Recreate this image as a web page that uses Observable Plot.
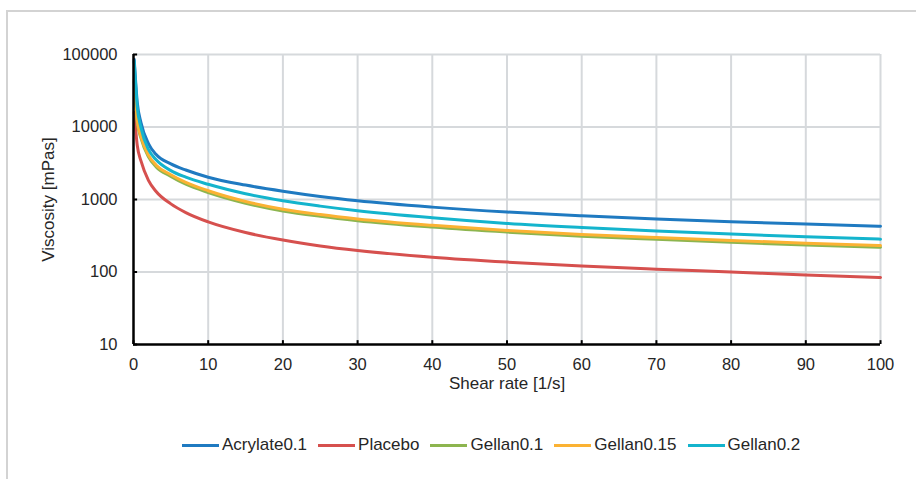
<!DOCTYPE html>
<html>
<head>
<meta charset="utf-8">
<script src="https://cdn.jsdelivr.net/npm/d3@7"></script>
<script src="https://cdn.jsdelivr.net/npm/@observablehq/plot@0.6"></script>
<style>
  html, body { margin: 0; padding: 0; background: #fff; }
  #wrap { position: relative; width: 916px; height: 479px; overflow: hidden; font-family: "Liberation Sans", Arial, sans-serif; }
  #frame { position: absolute; left: 6px; top: 10px; width: 930px; height: 480px; border-top: 2.5px solid #d3d3d3; border-left: 2.5px solid #d3d3d3; box-sizing: border-box; }
  #chart { position: absolute; left: 0; top: 0; }
  #legend { position: absolute; left: 182px; top: 435px; display: flex; align-items: center; font-size: 17px; color: #262626; white-space: nowrap; }
  .item { display: flex; align-items: center; margin-right: 11px; }
  .sw { width: 37px; height: 3px; margin-right: 3px; }
</style>
</head>
<body>
<div id="wrap">
  <div id="frame"></div>
  <div id="chart"></div>
  <div id="legend"></div>
</div>
<script>
// Shear rate [1/s]
const shear = [0.1, 0.5, 1, 2, 3, 5, 7, 10, 15, 20, 25, 30, 40, 50, 60, 70, 80, 90, 100];
// Viscosity [mPas] per series
const acrylate01 = [85000, 22000, 11500, 5900, 4200, 3100, 2550, 2030, 1580, 1300, 1100, 960, 785, 672, 597, 540, 495, 458, 428];
const placebo    = [16000, 5600, 3400, 1840, 1300, 870, 660, 491, 350, 276, 229, 198, 160, 137, 121, 109.5, 100, 91, 84];
const gellan01   = [42000, 11800, 7000, 3880, 2840, 2080, 1625, 1250, 890, 695, 586, 510, 416, 355, 312, 282, 257, 236, 219];
const gellan015  = [45000, 12500, 7400, 4100, 3000, 2200, 1720, 1320, 940, 735, 620, 540, 440, 375, 330, 298, 272, 250, 232];
const gellan02   = [80000, 19000, 9800, 4900, 3550, 2500, 2030, 1620, 1200, 960, 810, 700, 560, 468, 410, 367, 333, 306, 284];

const seriesNames = ["Acrylate0.1", "Placebo", "Gellan0.1", "Gellan0.15", "Gellan0.2"];
const seriesValues = [acrylate01, placebo, gellan01, gellan015, gellan02];
const seriesColors = ["#1f7ac1", "#d6504e", "#8db54f", "#fbb233", "#14b4cd"];

const xTicks = [0, 10, 20, 30, 40, 50, 60, 70, 80, 90, 100];
const yTicks = [10, 100, 1000, 10000, 100000];

const rows = [];
seriesNames.forEach((name, i) => {
  shear.forEach((x, j) => rows.push({series: name, x, y: seriesValues[i][j]}));
});

const chart = Plot.plot({
  width: 916,
  height: 420,
  marginLeft: 133,
  marginRight: 36,
  marginTop: 54,
  marginBottom: 76,
  style: { fontFamily: "'Liberation Sans', Arial, sans-serif", fontSize: "16.5px", color: "#262626", background: "transparent" },
  x: { domain: [0, 100], label: null },
  y: { type: "log", domain: [10, 100000], label: null },
  color: { domain: seriesNames, range: seriesColors },
  marks: [
    Plot.gridX(xTicks.filter(d => d > 0), { stroke: "#d6d9dc", strokeOpacity: 1, strokeWidth: 2 }),
    Plot.gridY(yTicks.filter(d => d > 10), { stroke: "#d6d9dc", strokeOpacity: 1, strokeWidth: 2 }),
    Plot.axisX({ ticks: xTicks, tickSize: 0, tickPadding: 14, tickFormat: d3.format("d") }),
    Plot.axisY({ ticks: yTicks, tickSize: 0, tickPadding: 16, tickFormat: d3.format("d") }),
    Plot.ruleY(yTicks, { x1: 0, x2: 0.55, stroke: "#000", strokeWidth: 2 }),
    Plot.ruleX(xTicks, { y1: 10, y2: 11.3, stroke: "#000", strokeWidth: 2 }),
    Plot.line(rows, { x: "x", y: "y", z: "series", stroke: "series", strokeWidth: 3, curve: "monotone-x" }),
    Plot.ruleX([0], { stroke: "#000", strokeWidth: 2.5 }),
    Plot.ruleY([10], { stroke: "#000", strokeWidth: 2.5 }),
    Plot.text(["Viscosity [mPas]"], { frameAnchor: "left", dx: -85, rotate: -90, textAnchor: "middle", lineAnchor: "middle", fontSize: 17, fill: "#262626" }),
    Plot.text(["Shear rate [1/s]"], { frameAnchor: "bottom", dy: 39, textAnchor: "middle", lineAnchor: "middle", fontSize: 17, fill: "#262626" })
  ]
});
document.getElementById("chart").appendChild(chart);

const legend = document.getElementById("legend");
seriesNames.forEach((name, i) => {
  const item = document.createElement("div");
  item.className = "item";
  const sw = document.createElement("div");
  sw.className = "sw";
  sw.style.background = seriesColors[i];
  const label = document.createElement("span");
  label.textContent = name;
  item.appendChild(sw);
  item.appendChild(label);
  legend.appendChild(item);
});
</script>
</body>
</html>
